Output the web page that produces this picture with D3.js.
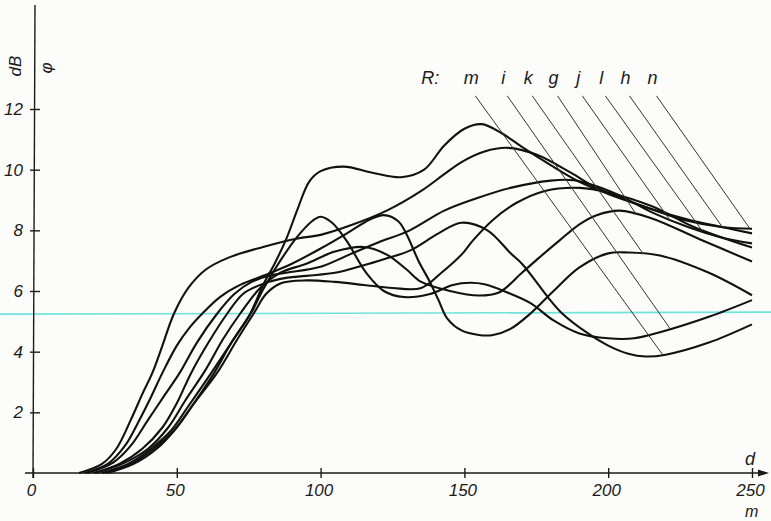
<!DOCTYPE html>
<html>
<head>
<meta charset="utf-8">
<script src="https://cdn.jsdelivr.net/npm/d3@7"></script>
<style>
body { margin: 0; background: #fcfcfa; }
text { font-family: "Liberation Sans", Arial, sans-serif; font-style: italic; fill: #1a1a1a; }
</style>
</head>
<body>
<div id="chart"></div>
<script>

// tick values
var xTicks = [0, 50, 100, 150, 200, 250];
var yTicks = [2, 4, 6, 8, 10, 12];

// curves, [d (m), level (dB)]
var curveM = [[21,0],[30,0.3],[38,0.8],[45,1.5],[50,2.3],[55,3.3],[61,4.3],[67.5,5.25],[73,5.9],[79,6.2],[86,6.4],[95,6.5],[105,6.6],[115,6.85],[122,7.05],[131,7.33],[141,7.9],[149,8.25],[158,8.0],[166,7.25],[170,6.9],[175,6.3],[179,5.8],[184,5.26],[193,4.6],[200,4.2],[207,3.93],[213,3.84],[220,3.9],[235,4.3],[250,4.9]];
var curveI = [[24,0],[33,0.3],[41,0.8],[48,1.4],[54,2.2],[62,3.3],[69,4.3],[76,5.3],[80,6.05],[86,7.0],[92,7.8],[97,8.3],[100,8.45],[104,8.25],[109,7.66],[116,6.58],[122,6.0],[129,5.8],[138,5.9],[146,6.2],[152,6.27],[157,6.22],[165,5.95],[173,5.6],[181,5.03],[190,4.6],[200,4.44],[209,4.44],[218,4.64],[235,5.15],[250,5.7]];
var curveK = [[18,0],[26,0.3],[32,0.9],[37,1.75],[41,2.5],[45,3.3],[50,4.2],[54.5,4.8],[58.8,5.25],[65,5.8],[72,6.2],[80,6.5],[90,6.9],[100,7.4],[110,7.95],[117,8.35],[122,8.5],[127,8.3],[130,7.85],[134,7.0],[138,6.3],[141,5.7],[144,5.1],[149,4.7],[155,4.55],[160,4.55],[166,4.75],[173,5.26],[181,6.0],[190,6.78],[200,7.24],[207,7.27],[218,7.17],[235,6.6],[250,5.86]];
var curveG = [[22,0],[31,0.3],[40,0.8],[47,1.5],[53,2.4],[60,3.4],[66,4.4],[72,5.25],[79,6.1],[86,6.6],[95,6.9],[105,7.3],[115,7.45],[123,7.2],[130,6.7],[135,6.3],[145,6.0],[155,5.85],[162,5.95],[170,6.6],[176,7.1],[183,7.66],[190,8.2],[196,8.5],[204,8.65],[215,8.4],[232,7.7],[250,6.97]];
var curveJ = [[19,0],[28,0.35],[34,0.9],[40,1.75],[46,2.6],[51,3.3],[57,4.3],[64,5.25],[70,5.9],[76,6.3],[82,6.5],[88,6.6],[100,6.8],[110,7.2],[120,7.6],[131,8.0],[143,8.65],[154,9.05],[166,9.4],[180,9.64],[188,9.65],[196,9.45],[205,9.1],[215,8.6],[228,8.1],[240,7.75],[250,7.57]];
var curveL = [[25,0],[34,0.3],[42,0.8],[49,1.4],[56,2.3],[64,3.3],[71,4.4],[77,5.3],[81,5.9],[86,6.25],[95,6.35],[105,6.3],[115,6.2],[125,6.1],[135,6.1],[142,6.6],[149,7.2],[153,7.67],[160,8.35],[168,8.9],[178,9.3],[190,9.4],[200,9.25],[215,8.8],[230,8.1],[250,7.43]];
var curveH = [[16,0],[24,0.3],[29,0.8],[34,1.75],[38,2.6],[41.5,3.3],[45,4.2],[49,5.25],[54,6.1],[60,6.7],[68,7.1],[80,7.45],[92,7.73],[100,7.85],[110,8.15],[123,8.65],[135,9.3],[143,9.85],[149,10.25],[157,10.6],[165,10.72],[175,10.5],[187,9.9],[195,9.45],[205,9.05],[215,8.7],[228,8.35],[240,8.1],[250,7.9]];
var curveN = [[26,0],[35,0.3],[43,0.8],[50,1.5],[56,2.3],[63,3.3],[69,4.3],[75.5,5.25],[80,6.2],[84,6.9],[88,7.7],[92,8.7],[96,9.6],[100,9.95],[108,10.1],[118,9.9],[128,9.75],[136,10.0],[143,10.8],[150,11.35],[156,11.5],[163,11.2],[170,10.75],[180,10.15],[190,9.6],[200,9.2],[212,8.8],[226,8.35],[240,8.1],[250,8.05]];

// R labels, where each sits (d) and where its leader meets its curve (d)
var labelNames = ["m", "i", "k", "g", "j", "l", "h", "n"];
var labelD = [152.4, 163.5, 172.2, 181, 189.6, 197.6, 206, 215.4];
var leaderEndD = [219, 221.6, 212.2, 209.8, 221.3, 232.4, 239.7, 249.3];
var curves = [curveM, curveI, curveK, curveG, curveJ, curveL, curveH, curveN];

var labelLevel = 12.83;   // dB height of the R: row
var cyanLevel = 5.27;     // the stray cyan rule across the scan

var width = 771, height = 521;

var svg = d3.select("#chart")
	.append("svg")
	.attr("width", width)
	.attr("height", height);

var x = d3.scaleLinear().domain([0, 250]).range([33, 752]);
var y = d3.scaleLinear().domain([0, 12]).range([473, 109]);

// cyan line (scan artefact, drawn first)
svg.append("line")
	.attr("x1", 0).attr("x2", width)
	.attr("y1", y(cyanLevel) + 1).attr("y2", y(cyanLevel) - 1)
	.attr("stroke", "#6fe3dc")
	.attr("stroke-width", 1.6);

// x axis
var xAxis = svg.append("g")
	.attr("transform", "translate(0," + y(0) + ")")
	.call(d3.axisBottom(x).tickValues(xTicks).tickSize(0).tickPadding(11));
xAxis.select(".domain").remove();
xAxis.selectAll(".tick line")
	.attr("y1", -5).attr("y2", 5)
	.attr("stroke", "#1a1a1a").attr("stroke-width", 1.4);
xAxis.selectAll(".tick text")
	.style("font-size", "17px")
	.attr("fill", "#1a1a1a")
	.attr("dx", "-2");

svg.append("line")
	.attr("x1", 25).attr("x2", 760)
	.attr("y1", y(0)).attr("y2", y(0))
	.attr("stroke", "#1a1a1a").attr("stroke-width", 1.4);
svg.append("path")
	.attr("d", "M758," + (y(0) - 3.5) + "L769," + y(0) + "L758," + (y(0) + 3.5) + "Z")
	.attr("fill", "#1a1a1a");

// y axis
var yAxis = svg.append("g")
	.attr("transform", "translate(" + x(0) + ",0)")
	.call(d3.axisLeft(y).tickValues(yTicks).tickSize(0).tickPadding(10));
yAxis.select(".domain").remove();
yAxis.selectAll(".tick line")
	.attr("x1", -3).attr("x2", 7)
	.attr("stroke", "#1a1a1a").attr("stroke-width", 1.4);
yAxis.selectAll(".tick text")
	.style("font-size", "17px")
	.attr("fill", "#1a1a1a");

svg.append("line")
	.attr("x1", x(0)).attr("x2", x(0) + 2)
	.attr("y1", y(0) + 5).attr("y2", 5)
	.attr("stroke", "#1a1a1a").attr("stroke-width", 1.4);

// axis titles
svg.append("text")
	.attr("transform", "translate(21,66) rotate(-90)")
	.attr("text-anchor", "middle")
	.style("font-size", "17px")
	.text("dB");
svg.append("text")
	.attr("transform", "translate(52,68) rotate(-90)")
	.attr("text-anchor", "middle")
	.style("font-size", "17px")
	.text("φ");
svg.append("text")
	.attr("x", x(250) - 7).attr("y", y(0) - 8)
	.style("font-size", "18px")
	.text("d");
svg.append("text")
	.attr("x", x(250) - 7).attr("y", y(0) + 44)
	.style("font-size", "16px")
	.text("m");

// curves
var line = d3.line()
	.x(function(d) { return x(d[0]); })
	.y(function(d) { return y(d[1]); })
	.curve(d3.curveCatmullRom.alpha(0.5));

svg.selectAll(".curve")
	.data(curves)
	.enter().append("path")
	.attr("class", "curve")
	.attr("d", line)
	.attr("fill", "none")
	.attr("stroke", "#111")
	.attr("stroke-width", 2.1);

// value of a curve at d (linear between read points)
function levelAt(c, d) {
	var i = d3.bisector(function(p) { return p[0]; }).left(c, d);
	if (i <= 0) return c[0][1];
	if (i >= c.length) return c[c.length - 1][1];
	var a = c[i - 1], b = c[i];
	return a[1] + (b[1] - a[1]) * (d - a[0]) / (b[0] - a[0]);
}

// R: labels and leaders
svg.append("text")
	.attr("x", x(labelD[0]) - 50).attr("y", y(labelLevel))
	.style("font-size", "18px")
	.text("R:");

svg.selectAll(".rlabel")
	.data(labelNames)
	.enter().append("text")
	.attr("class", "rlabel")
	.attr("x", function(d, i) { return x(labelD[i]); })
	.attr("y", y(labelLevel))
	.attr("text-anchor", "middle")
	.style("font-size", "18px")
	.text(function(d) { return d; });

svg.selectAll(".leader")
	.data(labelNames)
	.enter().append("line")
	.attr("class", "leader")
	.attr("x1", function(d, i) { return x(labelD[i]) + 4; })
	.attr("y1", y(labelLevel) + 12)
	.attr("x2", function(d, i) { return x(leaderEndD[i]); })
	.attr("y2", function(d, i) { return y(levelAt(curves[i], leaderEndD[i])); })
	.attr("stroke", "#333")
	.attr("stroke-width", 1);

</script>
</body>
</html>
